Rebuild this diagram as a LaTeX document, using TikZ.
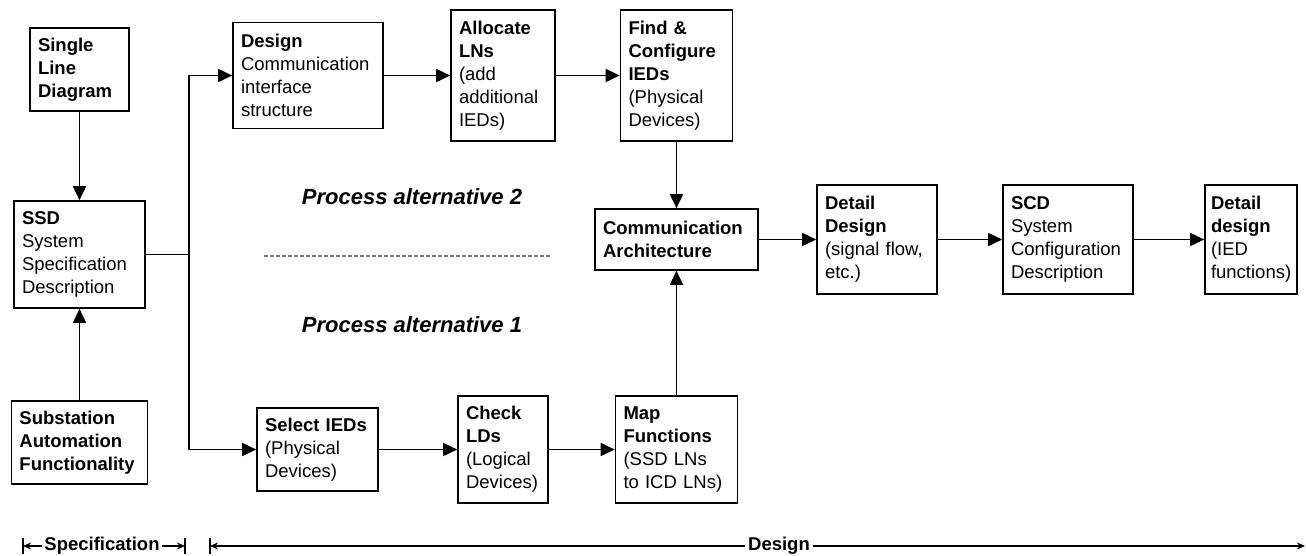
\documentclass[tikz,border=0pt]{standalone}
\usepackage{fontspec}
\setmainfont{Liberation Sans}
\usetikzlibrary{arrows.meta}
\newcommand{\boxfont}{\fontsize{18.5}{23}\selectfont}
\newcommand{\altfont}{\fontsize{22}{26}\selectfont\bfseries\itshape}

\begin{document}
\begin{tikzpicture}[x=1pt,y=-1pt,line width=1.6pt,>={Triangle[length=14pt,width=13pt]},font=\boxfont]
\tikzstyle{box}=[draw,align=left,inner xsep=8pt,inner ysep=0pt]
\tikzstyle{rangearrow}=[-{Stealth[length=8pt,width=7pt]},line width=1.4pt]
\tikzstyle{rangelabel}=[font=\fontsize{18.5}{20}\selectfont\bfseries,inner sep=2pt]

\useasboundingbox (0,0) rectangle (1306,555);

\node[box,text width=83pt,minimum height=83pt] (SLD) at (79.5,69.5)
  {\textbf{Single}\\\textbf{Line}\\\textbf{Diagram}};
\node[box,text width=115pt,minimum height=107pt] (SSD) at (79.5,254.5)
  {\textbf{SSD}\\System\\Specification\\Description};
\node[box,text width=120pt,minimum height=83pt] (SAF) at (79.5,442.5)
  {\textbf{Substation}\\\textbf{Automation}\\\textbf{Functionality}};

\node[box,text width=134pt,minimum height=106pt] (DCI) at (308,75.5)
  {\textbf{Design}\\Communication\\interface\\structure};
\node[box,text width=88pt,minimum height=131pt] (ALN) at (503,75.5)
  {\textbf{Allocate}\\\textbf{LNs}\\(add\\additional\\IEDs)};
\node[box,text width=96pt,minimum height=131pt] (FCI) at (676.5,75.5)
  {\textbf{Find \&}\\\textbf{Configure}\\\textbf{IEDs}\\(Physical\\Devices)};

\node[box,text width=147pt,minimum height=61pt] (CA) at (676.5,239.5)
  {\textbf{Communication}\\\textbf{Architecture}};
\node[box,text width=104pt,minimum height=109pt] (DD) at (877,239.5)
  {\textbf{Detail}\\\textbf{Design}\\(signal flow,\\etc.)};
\node[box,text width=114pt,minimum height=109pt] (SCD) at (1068,239.5)
  {\textbf{SCD}\\System\\Configuration\\Description};
\node[box,text width=80pt,inner xsep=6pt,minimum height=109pt] (DID) at (1251,239.5)
  {\textbf{Detail}\\\textbf{design}\\(IED\\functions)};

\node[box,text width=105pt,minimum height=83pt] (SEL) at (317.5,449.5)
  {\textbf{Select IEDs}\\(Physical\\Devices)};
\node[box,text width=74pt,minimum height=107pt] (CLD) at (503,449.5)
  {\textbf{Check}\\\textbf{LDs}\\(Logical\\Devices)};
\node[box,text width=106pt,minimum height=107pt] (MAP) at (676.5,449.5)
  {\textbf{Map}\\\textbf{Functions}\\(SSD LNs\\to ICD LNs)};

\node (alt2) at (412,197) {\altfont Process alternative 2};
\node (alt1) at (412,325) {\altfont Process alternative 1};
\coordinate (sepL) at (264,256);
\coordinate (sepR) at (550,256);
\draw[gray,line width=1.3pt,dash pattern=on 4pt off 2pt] (sepL) -- (sepR);

\coordinate (split) at (189,254.5);
\path[->] (SLD) edge (SSD);
\path[->] (SAF) edge (SSD);
\draw (SSD) -- (split);
\draw[->] (split) |- (DCI);
\draw[->] (split) |- (SEL);
\path[->] (DCI) edge (ALN);
\path[->] (ALN) edge (FCI);
\path[->] (FCI) edge (CA);
\path[->] (SEL) edge (CLD);
\path[->] (CLD) edge (MAP);
\path[->] (MAP) edge (CA);
\path[->] (CA) edge (DD);
\path[->] (DD) edge (SCD);
\path[->] (SCD) edge (DID);

% phases
\node[rangelabel] (spec) at (102,546) {Specification};
\node[rangelabel] (des) at (779,546) {Design};
\coordinate (specL) at (23,546);
\coordinate (specR) at (185,546);
\coordinate (desL) at (210,546);
\coordinate (desR) at (1305,546);
\draw[rangearrow] (spec) -- (specL);
\draw[rangearrow] (spec) -- (specR);
\draw[rangearrow] (des) -- (desL);
\draw[rangearrow] (des) -- (desR);
\draw[line width=1.4pt] ([yshift=-8pt]specL) -- ([yshift=8pt]specL);
\draw[line width=1.4pt] ([yshift=-8pt]specR) -- ([yshift=8pt]specR);
\draw[line width=1.4pt] ([yshift=-8pt]desL) -- ([yshift=8pt]desL);

\end{tikzpicture}
\end{document}
